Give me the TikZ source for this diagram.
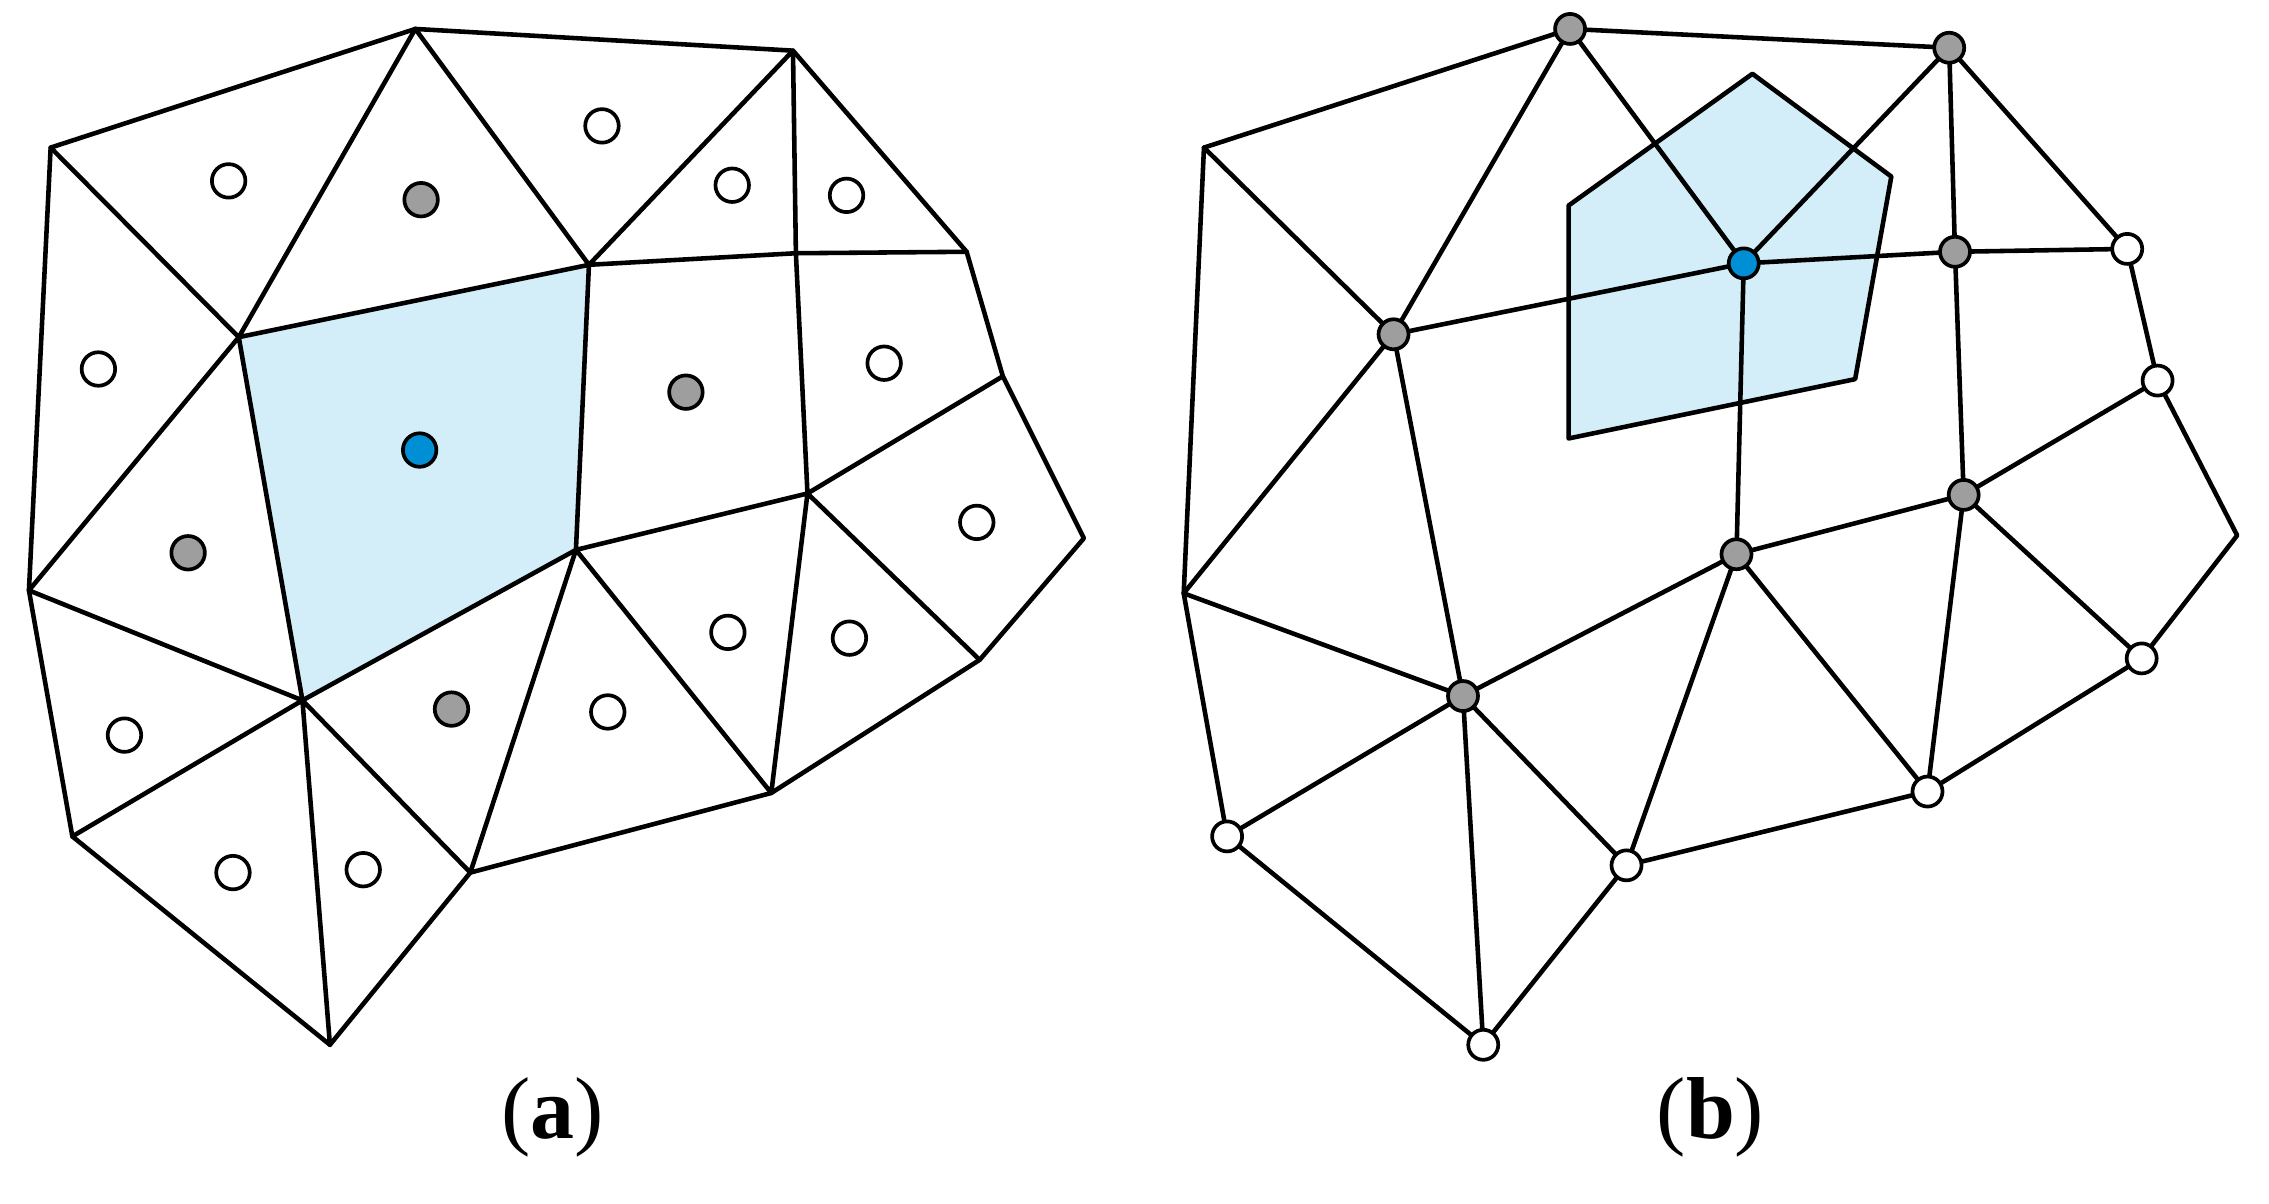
\documentclass[tikz,border=0pt]{standalone}
\usepackage{fontspec}
\setmainfont{Liberation Serif}
\definecolor{cellblue}{RGB}{211,238,248}
\definecolor{dotblue}{RGB}{0,143,213}
\definecolor{dotgrey}{RGB}{158,158,158}
\begin{document}
\begin{tikzpicture}[x=0.014471cm,y=-0.014471cm,
  mesh/.style={line width=1.3pt, line join=round, line cap=round},
  wdot/.style={circle, draw=black, fill=white, minimum size=0.335cm, inner sep=0pt, line width=1.05pt},
  gdot/.style={wdot, fill=dotgrey},
  bdot/.style={wdot, fill=dotblue},
  vw/.style={wdot, minimum size=0.3cm},
  vg/.style={vw, fill=dotgrey},
  vb/.style={vw, fill=dotblue},
  lab/.style={font=\fontsize{25}{30}\selectfont, inner sep=0pt}]
\useasboundingbox (0,0) rectangle (1568,832);
% ---------- (a) vertices ----------
\coordinate (aA) at (35,102);
\coordinate (aB) at (287,20);
\coordinate (aC) at (548,35);
\coordinate (aD) at (20,408);
\coordinate (aE) at (165,233);
\coordinate (aF) at (407,183);
\coordinate (aM) at (550,175);
\coordinate (aG) at (668,174);
\coordinate (aH) at (693,260);
\coordinate (aI) at (749,372);
\coordinate (aN) at (558,341);
\coordinate (aJ) at (398,380);
\coordinate (aT) at (677,456);
\coordinate (aP) at (533,548);
\coordinate (aQ) at (325,603);
\coordinate (aL) at (209,484);
\coordinate (aR) at (50,578);
\coordinate (aS) at (228,722);
% blue cell
\fill[cellblue] (aE) -- (aF) -- (aJ) -- (aL) -- cycle;
% edges
\draw[mesh] (aA) -- (aB) -- (aC) -- (aG) -- (aH) -- (aI) -- (aT) -- (aP) -- (aQ) -- (aS) -- (aR) -- (aD) -- cycle;
\draw[mesh] (aA) -- (aE) (aB) -- (aE) (aB) -- (aF) (aC) -- (aF) (aC) -- (aM)
  (aE) -- (aF) (aF) -- (aM) (aM) -- (aG) (aM) -- (aN) (aH) -- (aN) (aN) -- (aT)
  (aN) -- (aP) (aN) -- (aJ) (aF) -- (aJ) (aE) -- (aL) (aE) -- (aD) (aJ) -- (aL)
  (aJ) -- (aP) (aJ) -- (aQ) (aL) -- (aQ) (aL) -- (aD) (aL) -- (aR) (aL) -- (aS);
% cell-centre markers
\node[wdot] (c1) at (158,125) {};
\node[gdot] (c2) at (291,138) {};
\node[wdot] (c3) at (416,87) {};
\node[wdot] (c4) at (506,128) {};
\node[wdot] (c5) at (585,135) {};
\node[wdot] (c6) at (68,255) {};
\node[gdot] (c7) at (130,382) {};
\node[bdot] (c8) at (290,311) {};
\node[gdot] (c9) at (474,271) {};
\node[wdot] (c10) at (611,251) {};
\node[wdot] (c11) at (675,361) {};
\node[wdot] (c12) at (503,437) {};
\node[wdot] (c13) at (587,441) {};
\node[gdot] (c14) at (312,490) {};
\node[wdot] (c15) at (420,492) {};
\node[wdot] (c16) at (86,508) {};
\node[wdot] (c17) at (161,603) {};
\node[wdot] (c18) at (251,601) {};
% ---------- (b) vertices ----------
\coordinate (bA) at (832,102);
\coordinate (bB) at (1085,20);
\coordinate (bC) at (1347,33);
\coordinate (bD) at (818,410);
\coordinate (bE) at (963,231);
\coordinate (bF) at (1205,182);
\coordinate (bM) at (1351,174);
\coordinate (bG) at (1470,172);
\coordinate (bH) at (1491,263);
\coordinate (bI) at (1546,370);
\coordinate (bN) at (1357,342);
\coordinate (bJ) at (1200,383);
\coordinate (bT) at (1480,455);
\coordinate (bP) at (1332,547);
\coordinate (bQ) at (1124,598);
\coordinate (bL) at (1011,481);
\coordinate (bR) at (848,578);
\coordinate (bS) at (1025,722);
% dual cell
\draw[mesh, fill=cellblue] (1084,142) -- (1211,51) -- (1307,122) -- (1282,262) -- (1084,303) -- cycle;
\draw[mesh] (bA) -- (bB) -- (bC) -- (bG) -- (bH) -- (bI) -- (bT) -- (bP) -- (bQ) -- (bS) -- (bR) -- (bD) -- cycle;
\draw[mesh] (bA) -- (bE) (bB) -- (bE) (bB) -- (bF) (bC) -- (bF) (bC) -- (bM)
  (bE) -- (bF) (bF) -- (bM) (bM) -- (bG) (bM) -- (bN) (bH) -- (bN) (bN) -- (bT)
  (bN) -- (bP) (bN) -- (bJ) (bF) -- (bJ) (bE) -- (bL) (bE) -- (bD) (bJ) -- (bL)
  (bJ) -- (bP) (bJ) -- (bQ) (bL) -- (bQ) (bL) -- (bD) (bL) -- (bR) (bL) -- (bS);
% vertex markers
\node[vg] (vB) at (bB) {};
\node[vg] (vC) at (bC) {};
\node[vg] (vE) at (bE) {};
\node[vb] (vF) at (bF) {};
\node[vg] (vM) at (bM) {};
\node[vw] (vG) at (bG) {};
\node[vw] (vH) at (bH) {};
\node[vg] (vN) at (bN) {};
\node[vg] (vJ) at (bJ) {};
\node[vw] (vT) at (bT) {};
\node[vw] (vP) at (bP) {};
\node[vw] (vQ) at (bQ) {};
\node[vg] (vL) at (bL) {};
\node[vw] (vR) at (bR) {};
\node[vw] (vS) at (bS) {};
% labels
\node[lab] (la) at (382,772) {(\textbf{a})};
\node[lab] (lb) at (1182,772) {(\textbf{b})};
\end{tikzpicture}
\end{document}
